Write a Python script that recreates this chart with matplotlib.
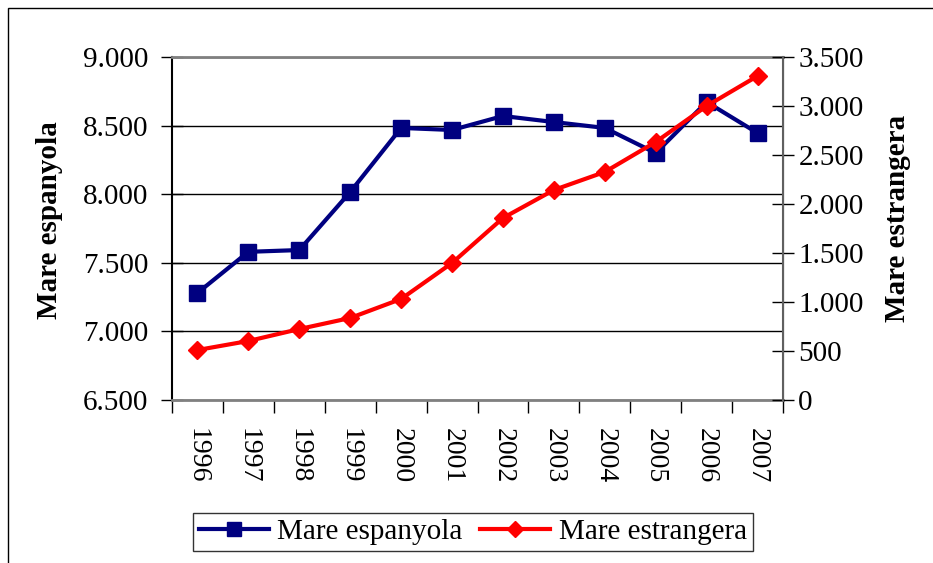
import numpy as np
import matplotlib.pyplot as plt
from matplotlib.patches import Rectangle
from matplotlib.ticker import FuncFormatter, MultipleLocator

# ------ Dades
anys = ['1996', '1997', '1998', '1999', '2000', '2001', '2002',
        '2003', '2004', '2005', '2006', '2007']
mare_espanyola = [7280, 7580, 7593, 8016, 8483, 8468, 8570, 8526, 8483, 8300, 8672, 8446]
mare_estrangera = [510, 602, 724, 837, 1031, 1398, 1857, 2143, 2327, 2633, 3000, 3306]

plt.rcParams['font.family'] = ['Liberation Serif', 'DejaVu Serif']

def punts(v, pos):  # separador de milers amb punt
    return '{:,.0f}'.format(v).replace(',', '.')

fig = plt.figure(figsize=(9.33, 5.63), dpi=100)
ax = fig.add_axes([172/933, 1-400/563, 611/933, 343/563])
ax2 = ax.twinx()

x = np.arange(len(anys))
ax.plot(x, mare_espanyola, '-', color='#000080', lw=3, marker='s', ms=12,
        label='Mare espanyola', zorder=3)
ax2.plot(x, mare_estrangera, '-', color='#FF0000', lw=3, marker='D', ms=9,
         label='Mare estrangera', zorder=3)

ax.set_xlim(-0.5, len(anys)-0.5)
ax.set_ylim(6500, 9000)
ax2.set_ylim(0, 3500)
ax.yaxis.set_major_locator(MultipleLocator(500))
ax2.yaxis.set_major_locator(MultipleLocator(500))
ax.yaxis.set_major_formatter(FuncFormatter(punts))
ax2.yaxis.set_major_formatter(FuncFormatter(punts))
ax.grid(axis='y', color='black', lw=1)
ax.set_axisbelow(True)

# ticks de l'eix x a les fronteres de categoria
ax.set_xticks(np.arange(len(anys)+1)-0.5)
ax.set_xticklabels([])
ax.set_xticks(x, minor=True)
ax.set_xticklabels(anys, minor=True, rotation=-90, fontsize=20)
ax.tick_params(axis='x', which='major', direction='out', length=9, width=1)
ax.tick_params(axis='x', which='minor', length=0, pad=20)
ax.tick_params(axis='y', direction='inout', length=16, width=1, labelsize=21, pad=9)
ax2.tick_params(axis='y', direction='inout', length=16, width=1, labelsize=21, pad=3)

for s in ['top', 'bottom']:
    ax.spines[s].set_color('#808080'); ax.spines[s].set_linewidth(2)
ax.spines['left'].set_color('black'); ax.spines['left'].set_linewidth(1.5)
ax2.spines['right'].set_color('#606060'); ax2.spines['right'].set_linewidth(1.5)
for s in ['top', 'bottom', 'left']:
    ax2.spines[s].set_visible(False)

ax.set_ylabel('Mare espanyola', fontsize=21, fontweight='bold')
ax.yaxis.set_label_coords(-0.178, 0.525)
ax2.set_ylabel('Mare estrangera', fontsize=21, fontweight='bold', rotation=90)
ax2.yaxis.set_label_coords(1.165, 0.53)

# llegenda a sota
h1, l1 = ax.get_legend_handles_labels()
h2, l2 = ax2.get_legend_handles_labels()
leg = fig.legend(h1+h2, l1+l2, loc='center', bbox_to_anchor=(473/933, 1-532/563),
                 ncol=2, fontsize=21, frameon=True, fancybox=False, edgecolor='black',
                 handlelength=2.4, handletextpad=0.3, columnspacing=0.6,
                 borderpad=0.2, markerscale=0.85)
leg.get_frame().set_linewidth(1)

# marc exterior
fig.patches.append(Rectangle((8/933, -0.05), 1.1, 1-8/563+0.05, transform=fig.transFigure,
                             fill=False, edgecolor='black', lw=1))

fig.savefig('out.png', dpi=100)
